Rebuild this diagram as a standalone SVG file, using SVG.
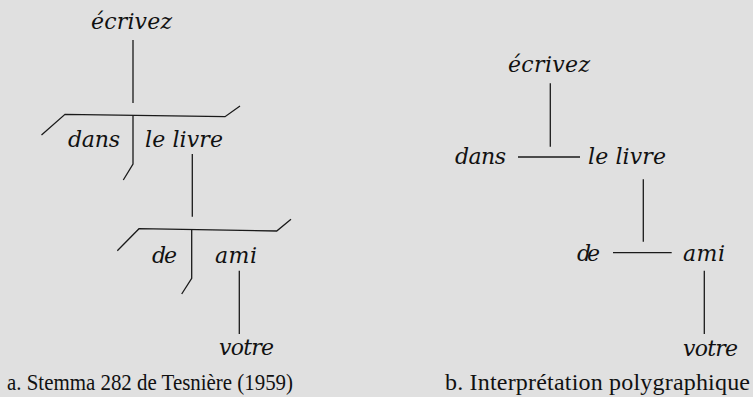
<svg xmlns="http://www.w3.org/2000/svg" width="753" height="397" viewBox="0 0 753 397">
<style>
.w{font-family:"DejaVu Serif",serif;font-style:italic;font-size:22px;fill:#111}
.c{font-family:"Liberation Serif","Times New Roman",serif;font-size:24px;fill:#111}
.l{stroke:#1a1a1a;stroke-width:1.3;fill:none}
</style>
<rect width="753" height="397" fill="#e0e0e0"/>
<g id="stemma-a">
<g id="a-ecrivez"><text class="w" x="91" y="29" textLength="81" lengthAdjust="spacing">écrivez</text></g>
<g id="a-dans"><text class="w" x="68" y="147" textLength="52" lengthAdjust="spacing">dans</text></g>
<g id="a-lelivre"><text class="w" x="145" y="147" textLength="78" lengthAdjust="spacing">le livre</text></g>
<g id="a-de"><text class="w" x="152" y="263" textLength="25" lengthAdjust="spacing">de</text></g>
<g id="a-ami"><text class="w" x="215" y="263" textLength="42" lengthAdjust="spacing">ami</text></g>
<g id="a-votre"><text class="w" x="219" y="355" textLength="55" lengthAdjust="spacing">votre</text></g>
<g id="a-connectors">
<line class="l" x1="133" y1="40" x2="133" y2="103"/>
<polyline class="l" points="41.5,135 65,114.3 225,116.7 240,106"/>
<polyline class="l" points="133,115 133,164 123.3,180"/>
<line class="l" x1="192.3" y1="154" x2="192.3" y2="216.7"/>
<polyline class="l" points="117.3,250.7 139,228.7 276.7,231 291,219.3"/>
<polyline class="l" points="191.7,229 191.7,278.3 181.7,294"/>
<line class="l" x1="239.3" y1="270.7" x2="239.3" y2="334"/>
</g>
<text class="c" x="7" y="390" textLength="286" lengthAdjust="spacingAndGlyphs">a. Stemma 282 de Tesnière (1959)</text>
</g>
<g id="stemma-b">
<g id="b-ecrivez"><text class="w" x="508" y="72" textLength="82" lengthAdjust="spacing">écrivez</text></g>
<g id="b-dans"><text class="w" x="455" y="164" textLength="51" lengthAdjust="spacing">dans</text></g>
<g id="b-lelivre"><text class="w" x="588" y="164" textLength="78" lengthAdjust="spacing">le livre</text></g>
<g id="b-de"><text class="w" x="577" y="261" textLength="23" lengthAdjust="spacing">de</text></g>
<g id="b-ami"><text class="w" x="683" y="261" textLength="42" lengthAdjust="spacing">ami</text></g>
<g id="b-votre"><text class="w" x="683" y="356" textLength="55" lengthAdjust="spacing">votre</text></g>
<g id="b-connectors">
<line class="l" x1="550.3" y1="83.3" x2="550.3" y2="146.7"/>
<line class="l" x1="518" y1="157" x2="580" y2="157"/>
<line class="l" x1="643.3" y1="179.3" x2="643.3" y2="241.7"/>
<line class="l" x1="613" y1="252.7" x2="671.7" y2="252.7"/>
<line class="l" x1="704.3" y1="270.7" x2="704.3" y2="334"/>
</g>
<text class="c" x="445" y="390" textLength="305" lengthAdjust="spacing">b. Interprétation polygraphique</text>
</g>
</svg>
